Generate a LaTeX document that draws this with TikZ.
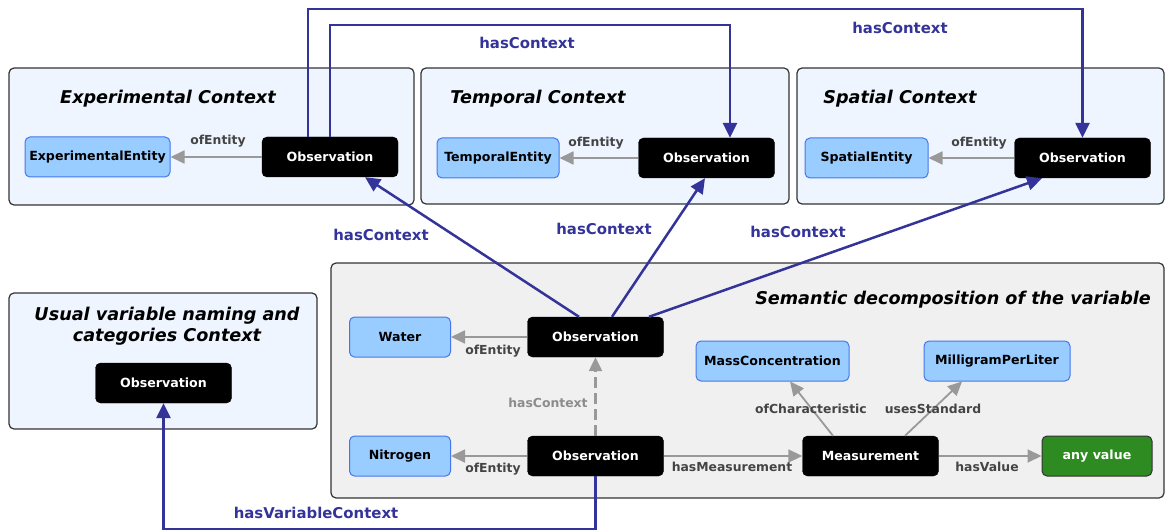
\documentclass[tikz,border=0pt]{standalone}
\usepackage{fontspec}
\setmainfont{DejaVu Sans}
\usetikzlibrary{arrows.meta}
\definecolor{cblue}{HTML}{333399}
\definecolor{entfill}{HTML}{99CCFF}
\definecolor{entdraw}{HTML}{4477EE}
\definecolor{panelfill}{HTML}{EEF5FF}
\definecolor{semfill}{HTML}{F0F0F0}
\definecolor{garrow}{HTML}{999999}
\definecolor{glabel}{HTML}{444444}
\definecolor{gdash}{HTML}{8C8C8C}
\definecolor{vgreen}{HTML}{2E8B22}
\newcommand{\nodefnt}{\fontsize{12.6}{14}\selectfont\bfseries}
\newcommand{\lblfnt}{\fontsize{12.4}{14}\selectfont\bfseries}
\newcommand{\titlefnt}{\fontsize{17.6}{21}\selectfont\bfseries\itshape}
\newcommand{\bluefnt}{\fontsize{14.9}{17}\selectfont\bfseries}
\tikzset{
  panel/.style={draw=black!80, fill=panelfill, rounded corners=5pt, line width=1.2pt, inner sep=0pt},
  sempanel/.style={panel, fill=semfill},
  obs/.style={fill=black, draw=black, text=white, rounded corners=5pt, minimum width=136pt, minimum height=40pt, inner sep=0pt, font=\nodefnt},
  ent/.style={fill=entfill, draw=entdraw, rounded corners=5pt, minimum height=40pt, inner sep=0pt, line width=1pt, font=\nodefnt},
  valnode/.style={fill=vgreen, draw=black!80, text=white, rounded corners=5pt, minimum width=110pt, minimum height=40pt, inner sep=0pt, line width=1pt, font=\nodefnt},
  gedge/.style={draw=garrow, line width=1.8pt, -{Triangle[length=14pt,width=13pt]}},
  bedge/.style={draw=cblue, line width=2.5pt, -{Triangle[length=15pt,width=14pt]}},
  glab/.style={text=glabel, font=\lblfnt, inner sep=0pt},
  dlab/.style={text=gdash, font=\lblfnt, inner sep=0pt},
  blab/.style={text=cblue, font=\bluefnt, inner sep=0pt},
  ptitle/.style={font=\titlefnt, inner sep=0pt, align=center}
}
\begin{document}
\begin{tikzpicture}[x=1pt,y=-1pt]
\useasboundingbox (0,0) rectangle (1165,532);
% panels
\node[panel, minimum width=405pt, minimum height=137pt] (pexp) at (211.5,136.5) {};
\node[panel, minimum width=368pt, minimum height=136pt] (ptem) at (605,136) {};
\node[panel, minimum width=367pt, minimum height=136pt] (pspa) at (980.5,136) {};
\node[panel, minimum width=308pt, minimum height=136pt] (pusu) at (163,361) {};
\node[sempanel, minimum width=833pt, minimum height=235pt] (psem) at (747.5,380.5) {};
% titles
\node[ptitle] (texp) at (168,99) {Experimental Context};
\node[ptitle] (ttem) at (538,99) {Temporal Context};
\node[ptitle] (tspa) at (900,99) {Spatial Context};
\node[ptitle] (tusu) at (167,326) {Usual variable naming and\\categories Context};
\node[ptitle, anchor=east] (tsem) at (1151,299.5) {Semantic decomposition of the variable};
% nodes
\node[ent, minimum width=145pt] (ee) at (97.5,157) {ExperimentalEntity};
\node[obs] (o1) at (330,157) {Observation};
\node[ent, minimum width=122pt] (te) at (498,158) {TemporalEntity};
\node[obs] (o2) at (706.5,158) {Observation};
\node[ent, minimum width=123pt] (se) at (866.5,158) {SpatialEntity};
\node[obs] (o3) at (1082.5,158) {Observation};
\node[obs] (ou) at (163.5,383) {Observation};
\node[ent, minimum width=101pt] (wa) at (400,337) {Water};
\node[obs] (om) at (595.5,337) {Observation};
\node[ent, minimum width=153pt] (mc) at (772.5,361) {MassConcentration};
\node[ent, minimum width=146pt] (mp) at (997,361) {MilligramPerLiter};
\node[ent, minimum width=101pt] (ni) at (400,456) {Nitrogen};
\node[obs] (ov) at (595.5,456) {Observation};
\node[obs] (ms) at (870.5,456) {Measurement};
\node[valnode] (av) at (1097,456) {any value};
% gray edges
\draw[gedge] (o1.west) -- (ee.east);
\node[glab] (l1) at (218,141) {ofEntity};
\draw[gedge] (o2.west) -- (te.east);
\node[glab] (l2) at (596,143) {ofEntity};
\draw[gedge] (o3.west) -- (se.east);
\node[glab] (l3) at (979,143) {ofEntity};
\draw[gedge] (om.west) -- (wa.east);
\node[glab] (l4) at (493,351) {ofEntity};
\draw[gedge] (ov.west) -- (ni.east);
\node[glab] (l5) at (493,469) {ofEntity};
\draw[gedge, line width=2.3pt, dash pattern=on 11pt off 5pt] (ov.north) -- (om.south);
\node[dlab] (l6) at (548,403) {hasContext};
\draw[gedge] (ov.east) -- (ms.west);
\node[glab] (l7) at (732,467) {hasMeasurement};
\draw[gedge] (ms.east) -- (av.west);
\node[glab] (l8) at (987,467) {hasValue};
\draw[gedge] ([xshift=-37.5pt]ms.north) -- ([xshift=17.5pt]mc.south);
\node[glab] (l9) at (811,409) {ofCharacteristic};
\draw[gedge] ([xshift=34.5pt]ms.north) -- ([xshift=-35pt]mp.south);
\node[glab] (l10) at (933,409) {usesStandard};
% blue edges
\draw[bedge] ([xshift=-16.5pt]om.north) -- ([xshift=35pt]o1.south);
\node[blab] (b1) at (381,235) {hasContext};
\draw[bedge] ([xshift=16.5pt]om.north) -- ([xshift=-1.5pt]o2.south);
\node[blab] (b2) at (604,229) {hasContext};
\draw[bedge] ([xshift=53.5pt]om.north) -- ([xshift=-40.5pt]o3.south);
\node[blab] (b3) at (798,232) {hasContext};
\coordinate (c1) at (330,25);
\coordinate (c2) at (730,25);
\draw[bedge] (o1.north) -- (c1) -- (c2) -- ([xshift=23.5pt]o2.north);
\node[blab] (b4) at (527,43) {hasContext};
\coordinate (c3) at (308,9);
\coordinate (c4) at (1082.5,9);
\draw[bedge] ([xshift=-22pt]o1.north) -- (c3) -- (c4) -- (o3.north);
\node[blab] (b5) at (900,28) {hasContext};
\coordinate (c5) at (595.5,529);
\coordinate (c6) at (163.5,529);
\draw[bedge] (ov.south) -- (c5) -- (c6) -- (ou.south);
\node[blab] (b6) at (316,513) {hasVariableContext};
\end{tikzpicture}
\end{document}
